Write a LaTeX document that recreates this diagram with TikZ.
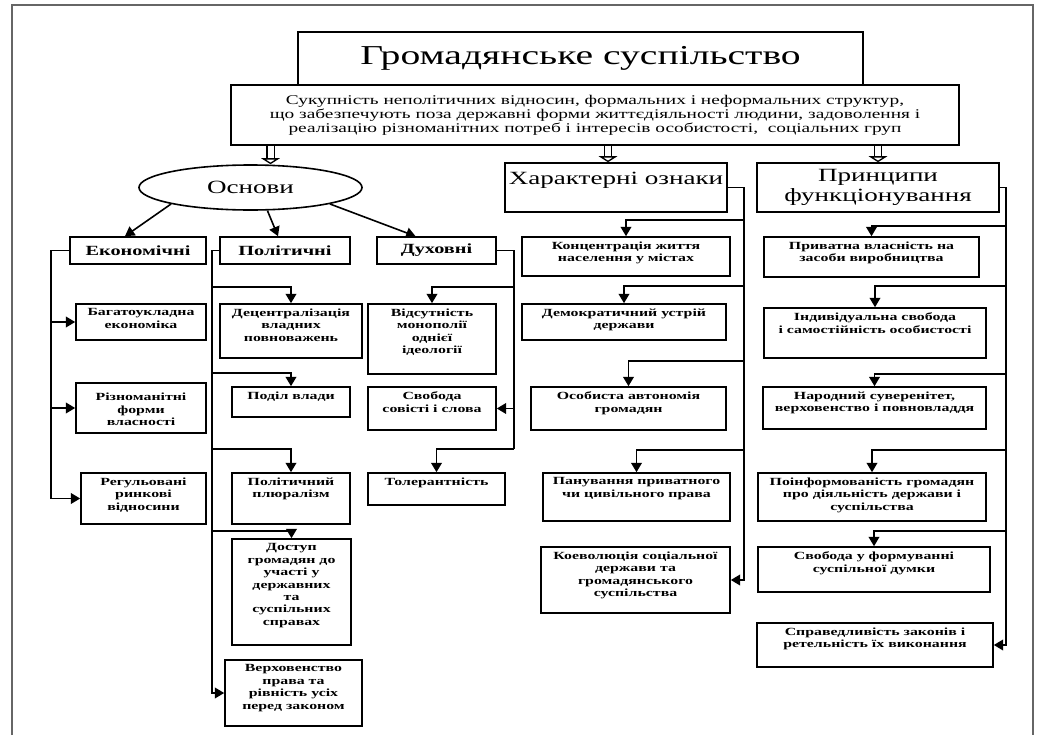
\documentclass[tikz,border=0pt]{standalone}
\usepackage{fontspec}
\setmainfont[FakeStretch=1.45]{Liberation Serif}
\usetikzlibrary{arrows.meta}
\usetikzlibrary{calc}
\usetikzlibrary{shapes.geometric}

\newcommand{\kidfont}{\bfseries\fontsize{8.2}{9.3}\selectfont}
\newcommand{\grpfont}{\bfseries\fontsize{10.5}{12}\selectfont}
\newcommand{\hdfont}{\fontsize{14}{15}\selectfont}

\tikzset{
  sz/.style 2 args={minimum width=#1*0.75pt, minimum height=#2*0.75pt},
  box/.style={draw, line width=1.2pt, inner sep=0pt},
  ktx/.style={anchor=north, align=center, font=\kidfont, inner sep=0pt, yshift=-4pt},
  arr/.style={line width=1.2pt, -{Triangle[length=7pt, width=8pt]}},
  dbl/.style={double, double distance=4.5pt, line width=1pt, -{Triangle[open, length=4.5pt, width=14pt]}},
}

\begin{document}
\begin{tikzpicture}[x=0.75pt, y=-0.75pt]
  \useasboundingbox (0,0) rectangle (1037,735);
  \draw[black!60, line width=0.8pt] (12,735) -- (12,5) -- (1033,5) -- (1033,735); % frame

  % top
  \node[box, sz={565}{53}, font=\fontsize{20.5}{23}\selectfont] (ttl) at (580.5,58.5) {Громадянське суспільство};
  \node[box, sz={728}{60}, align=center, font=\fontsize{10}{10.5}\selectfont] (desc) at (595,115)
    {Сукупність неполітичних відносин, формальних і неформальних структур,\\
     що забезпечують поза державні форми життєдіяльності людини, задоволення і\\
     реалізацію різноманітних потреб і інтересів особистості,\ \ соціальних груп};

  \node[box, ellipse, sz={223}{45}, font=\hdfont] (osn) at (250.5,187.5) {Основи};
  \node[box, sz={222}{49}, label={[ktx, font=\hdfont, yshift=-3pt]north:{Характерні ознаки}}] (kh) at (616,187.5) {};
  \node[box, sz={242}{49}, align=center, font=\hdfont] (pr) at (878,187.5) {Принципи\\ функціонування};

  \draw[dbl] ([xshift=15pt]osn.north |- desc.south) -- ([xshift=15pt]osn.north);
  \draw[dbl] ([xshift=-6pt]kh.north |- desc.south) -- ([xshift=-6pt]kh.north);
  \draw[dbl] (pr.north |- desc.south) -- (pr.north);

  % osnovy
  \node[box, sz={136}{27}, font=\grpfont] (ekon) at (138,250.5) {Економічні};
  \node[box, sz={130}{27}, font=\grpfont] (polit) at (285,250.5) {Політичні};
  \node[box, sz={119}{27}, font=\grpfont] (dukh) at (436.5,250.5) {Духовні};

  \draw[arr] (osn.south west) -- ($(ekon.north)+(-13,0)$);
  \draw[arr] ($(osn.south)+(17,0)$) -- ($(polit.north)+(-7,0)$);
  \draw[arr] (osn.south east) -- ($(dukh.north)+(-21,0)$);

  % ekonomichni
  \coordinate (eb) at ($(ekon.west)+(-18,0)$);
  \node[box, sz={130}{36}, label={[ktx]north:{Багатоукладна\\ економіка}}] (bahat) at (141,322) {};
  \node[box, sz={130}{50}, label={[ktx, yshift=-4pt]north:{Різноманітні\\ форми\\ власності}}] (rizn) at (141,408) {};
  \node[box, sz={125}{51}, label={[ktx]north:{Регульовані\\ ринкові\\ відносини}}] (rehul) at (143.5,498.5) {};
  \draw[arr] (ekon.west) -- (eb) |- (rehul.west);
  \draw[arr] (eb |- bahat.west) -- (bahat.west);
  \draw[arr] (eb |- rizn.west) -- (rizn.west);

  % politychni
  \coordinate (pb) at ($(polit.west)+(-7,0)$);
  \node[box, sz={142}{54}, label={[ktx]north:{Децентралізація\\ владних\\ повноважень}}] (detsen) at (291,331) {};
  \node[box, sz={118}{30}, label={[ktx]north:{Поділ влади}}] (podil) at (291,402) {};
  \node[box, sz={118}{51}, label={[ktx]north:{Політичний\\ плюралізм}}] (pliur) at (291,498.5) {};
  \node[box, sz={119}{106}, label={[ktx]north:{Доступ\\ громадян до\\ участі у\\ державних\\ та\\ суспільних\\ справах}}] (dostup) at (291.5,592) {};
  \node[box, sz={137}{66}, label={[ktx]north:{Верховенство\\ права та\\ рівність усіх\\ перед законом}}] (verkh) at (293.5,693) {};
  \draw[arr] (polit.west) -- (pb) |- (verkh.west);
  \draw[arr] ($(pb |- detsen.north)+(0,-16)$) -| (detsen.north);
  \draw[arr] ($(pb |- podil.north)+(0,-13)$) -| (podil.north);
  \draw[arr] ($(pb |- pliur.north)+(0,-23)$) -| (pliur.north);
  \draw[arr] ($(pb |- dostup.north)+(0,-7)$) -| (dostup.north);

  % dukhovni
  \coordinate (db) at ($(dukh.east)+(17,0)$);
  \node[box, sz={128}{70}, label={[ktx]north:{Відсутність\\ монополії\\ однієї\\ ідеології}}] (vidsut) at (432,339) {};
  \node[box, sz={128}{43}, label={[ktx]north:{Свобода\\ совісті і слова}}] (svob) at (432,408.5) {};
  \node[box, sz={137}{32}, label={[ktx]north:{Толерантність}}] (toler) at (436.5,489) {};
  \draw[line width=1.2pt] (dukh.east) -- (db) -- ($(db |- toler.north)+(0,-23)$);
  \draw[arr] ($(db |- vidsut.north)+(0,-16)$) -| (vidsut.north);
  \draw[arr] (db |- svob.east) -- (svob.east);
  \draw[arr] ($(db |- toler.north)+(0,-23)$) -| (toler.north);

  % kharakterni oznaky
  \coordinate (mb) at ($(kh.east)+(16,0)$);
  \node[box, sz={208}{39}, label={[ktx]north:{Концентрація життя\\ населення у містах}}] (konts) at (626,256.5) {};
  \node[box, sz={204}{36}, label={[ktx]north:{Демократичний устрій\\ держави}}] (demok) at (624,322) {};
  \node[box, sz={195}{43}, label={[ktx]north:{Особиста автономія\\ громадян}}] (osob) at (628.5,408.5) {};
  \node[box, sz={187}{48}, label={[ktx]north:{Панування приватного\\ чи цивільного права}}] (panuv) at (636.5,497) {};
  \node[box, sz={189}{66}, label={[ktx]north:{Коеволюція соціальної\\ держави та\\ громадянського\\ суспільства}}] (koev) at (635.5,580) {};
  \draw[arr] (kh.east) -- (mb) |- (koev.east);
  \draw[arr] ($(mb |- konts.north)+(0,-16)$) -| (konts.north);
  \draw[arr] ($(mb |- demok.north)+(0,-17)$) -| (demok.north);
  \draw[arr] ($(mb |- osob.north)+(0,-25)$) -| (osob.north);
  \draw[arr] ($(mb |- panuv.north)+(0,-22)$) -| (panuv.north);

  % pryntsypy funktsionuvannia
  \coordinate (rb) at ($(pr.east)+(6,0)$);
  \node[box, sz={215}{40}, label={[ktx]north:{Приватна власність на\\ засоби виробництва}}] (pryv) at (871.5,257) {};
  \node[box, sz={222}{50}, label={[ktx]north:{Індивідуальна свобода\\ і самостійність особистості}}] (indyv) at (875,333) {};
  \node[box, sz={223}{42}, label={[ktx]north:{Народний суверенітет,\\ верховенство і повновладдя}}] (narod) at (874.5,408) {};
  \node[box, sz={228}{48}, label={[ktx]north:{Поінформованість громадян\\ про діяльність держави і\\ суспільства}}] (poinf) at (872,497) {};
  \node[box, sz={232}{45}, label={[ktx]north:{Свобода у формуванні\\ суспільної думки}}] (svform) at (874,569.5) {};
  \node[box, sz={236}{44}, label={[ktx]north:{Справедливість законів і\\ ретельність їх виконання}}] (spr) at (875,645) {};
  \draw[arr] (pr.east) -- (rb) |- (spr.east);
  \draw[arr] ($(rb |- pryv.north)+(0,-10)$) -| (pryv.north);
  \draw[arr] ($(rb |- indyv.north)+(0,-21)$) -| (indyv.north);
  \draw[arr] ($(rb |- narod.north)+(0,-12)$) -| (narod.north);
  \draw[arr] ($(rb |- poinf.north)+(0,-22)$) -| (poinf.north);
  \draw[arr] ($(rb |- svform.north)+(0,-15)$) -| (svform.north);
\end{tikzpicture}
\end{document}
